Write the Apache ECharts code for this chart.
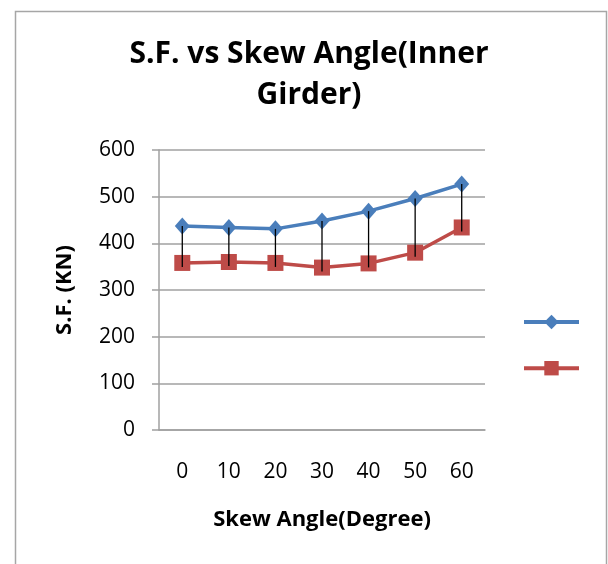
<!DOCTYPE html>
<html>
<head>
    <meta charset="utf-8">
    <title>S.F. vs Skew Angle</title>
    <script type="text/javascript" src="https://cdn.jsdelivr.net/npm/echarts@6/dist/echarts.min.js"></script>
    <style>
        html, body { margin: 0; padding: 0; background: #fff; }
        #container { width: 608px; height: 564px; }
    </style>
</head>
<body>
<div id="container"></div>
<script type="text/javascript">
    // data
    var angles = ['0', '10', '20', '30', '40', '50', '60'];
    var sfSeries1 = [437, 434, 431, 448, 469, 496, 527];
    var sfSeries2 = [358, 360, 358, 348, 357, 380, 434];
    var yTicks = [0, 100, 200, 300, 400, 500, 600];

    var dom = document.getElementById('container');
    var myChart = echarts.init(dom, null, { renderer: 'canvas' });

    // high-low line data: [index, high, low]
    var hiLo = [];
    for (var i = 0; i < angles.length; i++) {
        hiLo.push([i, Math.max(sfSeries1[i], sfSeries2[i]), Math.min(sfSeries1[i], sfSeries2[i])]);
    }

    var axisFont = 'Open Sans, Noto Sans, sans-serif';
    var blue = '#4a7ebb';
    var red = '#be4b48';

    var option = {
        backgroundColor: '#fff',
        animation: false,
        graphic: [{
            type: 'rect',
            left: 13, top: 9,
            shape: { width: 591, height: 600 },
            style: { fill: 'none', stroke: '#a6a6a6', lineWidth: 1.5 },
            silent: true
        }],
        title: {
            text: 'S.F. vs Skew Angle(Inner\nGirder)',
            left: 309,
            textAlign: 'center',
            top: 34,
            padding: 0,
            textStyle: {
                fontFamily: axisFont,
                fontSize: 30,
                fontWeight: 'bold',
                color: '#000',
                lineHeight: 41
            }
        },
        legend: {
            orient: 'vertical',
            left: 522,
            top: 313,
            padding: 0,
            itemWidth: 55,
            itemHeight: 18,
            itemGap: 30,
            data: [
                { name: 'Series1', lineStyle: { width: 4, color: blue } },
                { name: 'Series2', lineStyle: { width: 4, color: red } }
            ],
            formatter: function () { return ''; },
            textStyle: { fontSize: 1 }
        },
        grid: {
            left: 159,
            right: 123,
            top: 150,
            bottom: 134,
            containLabel: false
        },
        xAxis: {
            type: 'category',
            data: angles,
            boundaryGap: true,
            name: 'Skew Angle(Degree)',
            nameLocation: 'middle',
            nameGap: 79,
            nameTextStyle: {
                fontFamily: axisFont,
                fontSize: 22,
                fontWeight: 'bold',
                color: '#000'
            },
            axisLine: { lineStyle: { color: '#a0a0a0', width: 1.5 } },
            axisTick: { show: false },
            axisLabel: {
                margin: 32,
                fontFamily: axisFont,
                fontSize: 21,
                color: '#000'
            },
            splitLine: { show: false }
        },
        yAxis: {
            type: 'value',
            min: yTicks[0],
            max: yTicks[yTicks.length - 1],
            interval: 100,
            name: 'S.F. (KN)',
            nameLocation: 'middle',
            nameGap: 83,
            nameRotate: 90,
            nameTextStyle: {
                fontFamily: axisFont,
                fontSize: 22,
                fontWeight: 'bold',
                color: '#000'
            },
            axisLine: { show: true, lineStyle: { color: '#a0a0a0', width: 1.5 } },
            axisTick: { show: true, inside: false, length: 7, lineStyle: { color: '#a0a0a0', width: 1.5 } },
            axisLabel: {
                margin: 24,
                fontFamily: axisFont,
                fontSize: 21,
                color: '#000'
            },
            splitLine: { show: true, lineStyle: { color: '#a0a0a0', width: 1.5 } }
        },
        series: [
            {
                name: 'Series1',
                type: 'line',
                data: sfSeries1,
                color: blue,
                symbol: 'diamond',
                symbolSize: [15, 17],
                lineStyle: { width: 3.5, color: blue },
                itemStyle: { color: blue },
                z: 3
            },
            {
                name: 'Series2',
                type: 'line',
                data: sfSeries2,
                color: red,
                symbol: 'rect',
                symbolSize: 16,
                lineStyle: { width: 3.5, color: red },
                itemStyle: { color: red },
                z: 3
            },
            {
                name: 'hilo',
                type: 'custom',
                data: hiLo,
                z: 5,
                silent: true,
                encode: { x: 0, y: [1, 2] },
                renderItem: function (params, api) {
                    var top = api.coord([api.value(0), api.value(1)]);
                    var bot = api.coord([api.value(0), api.value(2)]);
                    return {
                        type: 'line',
                        shape: { x1: top[0], y1: top[1], x2: bot[0], y2: bot[1] + 4 },
                        style: { stroke: '#000', lineWidth: 1.3 }
                    };
                }
            }
        ]
    };

    myChart.setOption(option);
    window.addEventListener('resize', myChart.resize);
</script>
</body>
</html>
